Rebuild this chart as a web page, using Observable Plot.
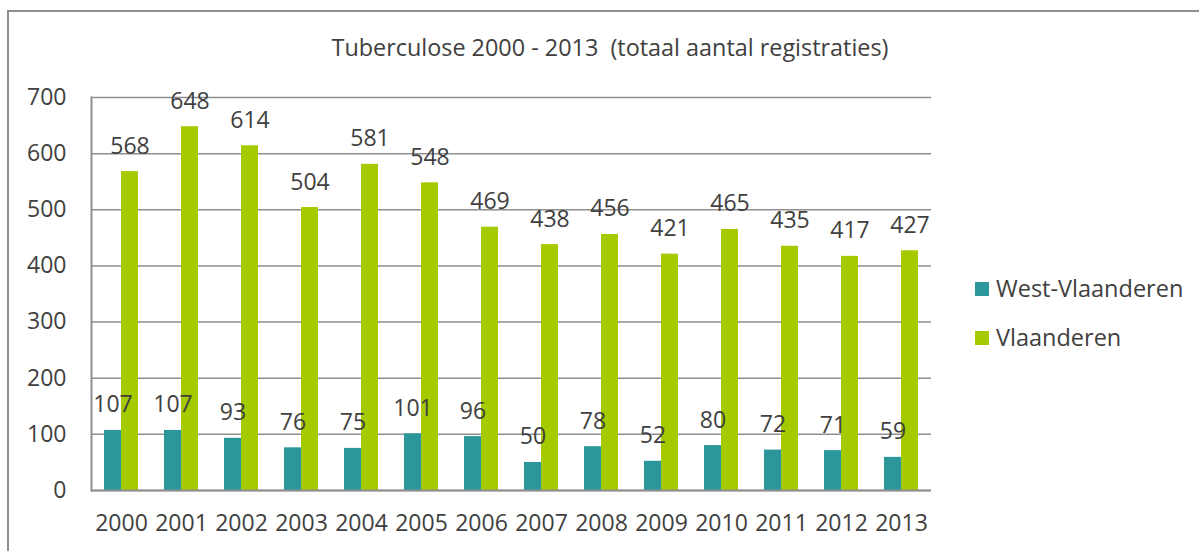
<!DOCTYPE html>
<html>
<head>
<meta charset="utf-8">
<script src="https://cdn.jsdelivr.net/npm/d3@7"></script>
<script src="https://cdn.jsdelivr.net/npm/@observablehq/plot@0.6"></script>
<style>
  html, body { margin: 0; padding: 0; background: #fff; }
  #wrap { position: relative; width: 1199px; height: 551px; overflow: hidden; font-family: "Open Sans", sans-serif; color: #404040; }
  #border { position: absolute; left: 7px; top: 10px; width: 1300px; height: 700px; border-top: 2px solid #8f8f8f; border-left: 2px solid #8f8f8f; }
  #title { position: absolute; left: 0; width: 1220px; top: 31px; text-align: center; font-size: 23.4px; line-height: 32px; white-space: pre; }
  #chart { position: absolute; left: 0; top: 0; }
  .leg { position: absolute; left: 975px; font-size: 23.5px; line-height: 32px; white-space: nowrap; }
  .leg span.sw { display: inline-block; width: 14px; height: 14px; margin-right: 7px; vertical-align: 1px; }
</style>
</head>
<body>
<div id="wrap">
  <div id="border"></div>
  <div id="chart"></div>
  <div id="title">Tuberculose 2000 - 2013  (totaal aantal registraties)</div>
  <div class="leg" id="leg1" style="top:272px"><span class="sw" style="background:#2b979b"></span>West-Vlaanderen</div>
  <div class="leg" id="leg2" style="top:321px"><span class="sw" style="background:#a6ca00"></span>Vlaanderen</div>
</div>
<script>
const years = ["2000","2001","2002","2003","2004","2005","2006","2007","2008","2009","2010","2011","2012","2013"];
const westVlaanderen = [107, 107, 93, 76, 75, 101, 96, 50, 78, 52, 80, 72, 71, 59];
const vlaanderen = [568, 648, 614, 504, 581, 548, 469, 438, 456, 421, 465, 435, 417, 427];
const yTicks = [0, 100, 200, 300, 400, 500, 600, 700];
const seriesNames = ["West-Vlaanderen", "Vlaanderen"];
const seriesColors = ["#2b979b", "#a6ca00"];

const west = years.map((y, i) => ({year: y, value: westVlaanderen[i]}));
const vl = years.map((y, i) => ({year: y, value: vlaanderen[i]}));

const chart = Plot.plot({
  width: 1199,
  height: 551,
  marginLeft: 91,
  marginRight: 268,
  marginTop: 97,
  marginBottom: 61,
  style: {fontFamily: "Open Sans, sans-serif", fontSize: "23px", color: "#404040", background: "transparent"},
  x: {type: "band", domain: years, paddingInner: 0, paddingOuter: 0, label: null},
  y: {domain: [0, 700], ticks: yTicks, label: null},
  marks: [
    Plot.gridY(yTicks, {stroke: "#8f8f8f", strokeOpacity: 1, strokeWidth: 1.5}),
    Plot.barY(west, {x: "year", y: "value", fill: seriesColors[0], insetLeft: 13, insetRight: 30}),
    Plot.barY(vl, {x: "year", y: "value", fill: seriesColors[1], insetLeft: 30, insetRight: 13}),
    Plot.ruleY([0], {stroke: "#8f8f8f", strokeWidth: 2}),
    Plot.frame({anchor: "left", stroke: "#8f8f8f", strokeWidth: 2}),
    Plot.text(west, {x: "year", y: "value", text: d => String(d.value), dx: -8.5, dy: -18, lineAnchor: "bottom", fill: "#404040"}),
    Plot.text(vl, {x: "year", y: "value", text: d => String(d.value), dx: 8.5, dy: -18, lineAnchor: "bottom", fill: "#404040"}),
    Plot.axisY(yTicks, {tickSize: 0, tickPadding: 25, label: null}),
    Plot.axisX({tickSize: 0, tickPadding: 24, label: null})
  ]
});
document.getElementById("chart").appendChild(chart);
</script>
</body>
</html>
